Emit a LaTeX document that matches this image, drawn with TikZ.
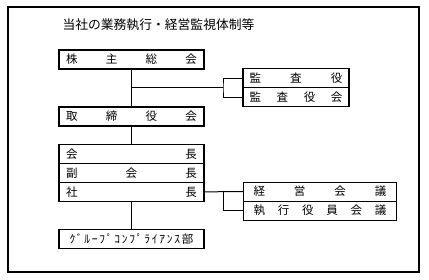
\documentclass[tikz,border=0pt]{standalone}
\usepackage{fontspec}
\newfontfamily\jpfont{Noto Sans CJK JP}
\usetikzlibrary{positioning}
\tikzset{
  every picture/.style={font=\jpfont\fontsize{11.5}{13}\selectfont, line width=1pt},
  box/.style={draw, line width=1.3pt, outer sep=0pt, inner xsep=7pt, inner ysep=0pt,
    minimum height=19pt, text width=#1, align=left},
  box/.default=131pt,
  title/.style={font=\jpfont\fontsize{12.8}{14}\selectfont, anchor=west, inner sep=0pt},
  frame/.style={line width=1.3pt},
}
\begin{document}
\begin{tikzpicture}[x=1pt, y=-1pt]
  \useasboundingbox (0,0) rectangle (429,279);
  \draw[frame] (8,7) rectangle (419,272);
  \node[title] (head) at (62,25) {当社の業務執行・経営監視体制等};
  % left column
  \node[box] (soukai) at (131.5,59.5) {株\hfill 主\hfill 総\hfill 会};
  \node[box] (torishimari) at (131.5,116.5) {取\hfill 締\hfill 役\hfill 会};
  \node[box] (kaicho) at (131.5,153.8) {会\hfill 長};
  \node[box, below=0pt of kaicho] (fukukaicho) {副\hfill 会\hfill 長};
  \node[box, below=0pt of fukukaicho] (shacho) {社\hfill 長};
  \node[box=124pt, inner xsep=10.5pt] (group) at (131.5,238.8)
    {ｸ\hfill ﾞ\hfill ﾙ\hfill ｰ\hfill ﾌ\hfill ﾟ\hfill ｺ\hfill ﾝ\hfill ﾌ\hfill ﾟ\hfill ﾗ\hfill ｲ\hfill ｱ\hfill ﾝ\hfill ｽ\hfill 部};
  % right column
  \node[box=93pt, inner xsep=6.5pt] (kansayaku) at (296,78.3) {監\hfill 査\hfill 役};
  \node[box=93pt, inner xsep=6.5pt, below=0pt of kansayaku] (kansakai) {監\hfill 査\hfill 役\hfill 会};
  \node[box=133pt, inner xsep=10.3pt] (keiei) at (320,191.65) {経\hfill 営\hfill 会\hfill 議};
  \node[box=133pt, inner xsep=10.3pt, below=0pt of keiei] (shikkou) {執\hfill 行\hfill 役\hfill 員\hfill 会\hfill 議};
  % connectors
  \coordinate (kj) at (131.5,87.7);
  \coordinate (kbr) at (223,87.7);
  \coordinate (sbr) at (223,191.65);
  \draw (soukai) -- (torishimari);
  \draw (kj) -- (kbr);
  \draw (kansayaku.west) -| (kbr) |- (kansakai.west);
  \draw (torishimari) -- (kaicho);
  \draw (shacho.east) -- (keiei.west);
  \draw (sbr) |- (shikkou.west);
  \draw (shacho) -- (group);
\end{tikzpicture}
\end{document}
